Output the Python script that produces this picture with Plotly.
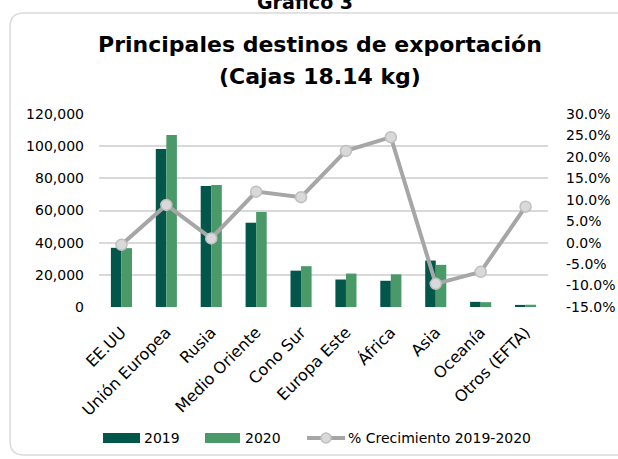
import plotly.graph_objects as go

categories = ["EE.UU", "Unión Europea", "Rusia", "Medio Oriente", "Cono Sur",
              "Europa Este", "África", "Asia", "Oceanía", "Otros (EFTA)"]
cajas_2019 = [36800, 98200, 75200, 52400, 22600, 17100, 16300, 28900, 3200, 1300]
cajas_2020 = [36600, 106900, 75900, 59100, 25400, 20800, 20300, 26200, 3000, 1400]
crecimiento = [-0.005, 0.088, 0.010, 0.119, 0.106, 0.214, 0.246, -0.096, -0.068, 0.084]

left_ticks = [0, 20000, 40000, 60000, 80000, 100000, 120000]
right_ticks = [-0.15, -0.10, -0.05, 0.0, 0.05, 0.10, 0.15, 0.20, 0.25, 0.30]
right_labels = ["-15.0%", "-10.0%", "-5.0%", "0.0%", "5.0%", "10.0%",
                "15.0%", "20.0%", "25.0%", "30.0%"]

C2019 = "#02574A"
C2020 = "#4A9A69"
CLINE = "#A6A6A6"
FONT = "DejaVu Sans"

W, H = 618, 459
L, R, T, B = 99, 70, 114, 152
PW, PH = W - L - R, H - T - B

def px(x):
    return (x - L) / PW

def py(y):
    return (H - B - y) / PH

fig = go.Figure()
fig.add_trace(go.Bar(x=categories, y=cajas_2019, name="2019", marker_color=C2019,
                     marker_line_width=0, yaxis="y"))
fig.add_trace(go.Bar(x=categories, y=cajas_2020, name="2020", marker_color=C2020,
                     marker_line_width=0, yaxis="y"))
fig.add_trace(go.Scatter(x=categories, y=crecimiento, name="% Crecimiento 2019-2020",
                         mode="lines+markers", yaxis="y2",
                         line=dict(color=CLINE, width=4),
                         marker=dict(symbol="circle", size=11, color="#D9D9D9",
                                     line=dict(color="#BFBFBF", width=1.5))))

shapes = []
# rounded chart border
x0, x1, y0, y1, r = 10, 640, 13, 455, 14
path = (f"M {px(x0)},{py(y0 + r)} Q {px(x0)},{py(y0)} {px(x0 + r)},{py(y0)} "
        f"L {px(x1 - r)},{py(y0)} Q {px(x1)},{py(y0)} {px(x1)},{py(y0 + r)} "
        f"L {px(x1)},{py(y1 - r)} Q {px(x1)},{py(y1)} {px(x1 - r)},{py(y1)} "
        f"L {px(x0 + r)},{py(y1)} Q {px(x0)},{py(y1)} {px(x0)},{py(y1 - r)} Z")
shapes.append(dict(type="path", xref="paper", yref="paper", path=path,
                   line=dict(color="#D9D9D9", width=1.5), layer="below"))

# custom legend
ly = 438
shapes.append(dict(type="rect", xref="paper", yref="paper", x0=px(103), x1=px(140),
                   y0=py(ly + 5), y1=py(ly - 5), fillcolor=C2019, line_width=0))
shapes.append(dict(type="rect", xref="paper", yref="paper", x0=px(205), x1=px(240),
                   y0=py(ly + 5), y1=py(ly - 5), fillcolor=C2020, line_width=0))
shapes.append(dict(type="line", xref="paper", yref="paper", x0=px(307), x1=px(345),
                   y0=py(ly), y1=py(ly), line=dict(color=CLINE, width=4)))
shapes.append(dict(type="circle", xref="paper", yref="paper", x0=px(321), x1=px(331),
                   y0=py(ly + 5), y1=py(ly - 5), fillcolor="#D9D9D9",
                   line=dict(color="#BFBFBF", width=1.5)))

annotations = [
    dict(text="<b>Gráfico 3</b>", xref="paper", yref="paper", x=px(305), y=py(2),
         showarrow=False, font=dict(family=FONT, size=19, color="#000000"),
         xanchor="center", yanchor="middle"),
    dict(text="<b>(Cajas 18.14 kg)</b>", xref="paper", yref="paper", x=px(320), y=py(76),
         showarrow=False, font=dict(family=FONT, size=22, color="#000000"),
         xanchor="center", yanchor="middle"),
    dict(text="2019", xref="paper", yref="paper", x=px(142), y=py(ly), showarrow=False,
         xanchor="left", yanchor="middle", font=dict(family=FONT, size=14, color="#000")),
    dict(text="2020", xref="paper", yref="paper", x=px(243), y=py(ly), showarrow=False,
         xanchor="left", yanchor="middle", font=dict(family=FONT, size=14, color="#000")),
    dict(text="% Crecimiento 2019-2020", xref="paper", yref="paper", x=px(346), y=py(ly),
         showarrow=False, xanchor="left", yanchor="middle",
         font=dict(family=FONT, size=14, color="#000")),
]

fig.update_layout(
    width=W, height=H,
    margin=dict(l=L, r=R, t=T, b=B, autoexpand=False),
    paper_bgcolor="white", plot_bgcolor="white",
    font=dict(family=FONT, size=14, color="#000000"),
    title=dict(text="<b>Principales destinos de exportación</b>",
               x=320 / W, xref="container", xanchor="center",
               y=1 - 44 / H, yref="container", yanchor="middle",
               font=dict(family=FONT, size=22, color="#000000")),
    barmode="group", bargap=0.53, bargroupgap=0,
    showlegend=False,
    xaxis=dict(range=[-0.5, 9.5], tickangle=-45, tickfont=dict(family=FONT, size=16),
               showgrid=False, showline=False, ticks="", zeroline=False,
               ticklabelstandoff=12),
    yaxis=dict(range=[0, 120000], tickvals=left_ticks, tickformat=",", showgrid=True,
               gridcolor="#D9D9D9", gridwidth=1.5, zeroline=False, ticks="",
               tickfont=dict(family=FONT, size=14), ticklabelstandoff=14),
    yaxis2=dict(range=[-0.15, 0.30], tickvals=right_ticks, ticktext=right_labels,
                overlaying="y", side="right", showgrid=False, zeroline=False, ticks="",
                tickfont=dict(family=FONT, size=14), ticklabelstandoff=17),
    shapes=shapes, annotations=annotations,
)

fig.write_html("out.html", config={"displayModeBar": False},
               post_script="document.body.style.margin='0';document.body.style.overflow='hidden';")
